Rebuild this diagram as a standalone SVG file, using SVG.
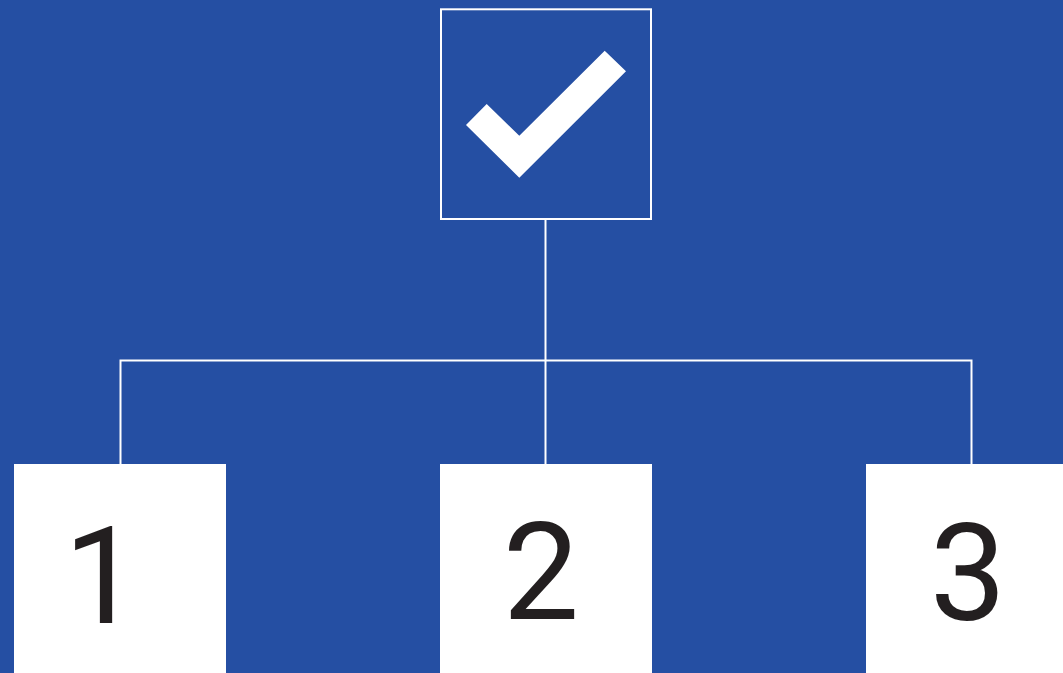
<svg xmlns="http://www.w3.org/2000/svg" width="1063" height="673" viewBox="0 0 1063 673">
<style>
.conn{stroke:#ffffff;stroke-width:2;fill:none}
.box{fill:#ffffff}
.num{font-family:Roboto,"Liberation Sans",Arial,sans-serif;font-size:136px;fill:#231f20;text-anchor:middle}
</style>
<rect x="0" y="0" width="1063" height="673" fill="#254fa3"/>
<g id="connectors">
<line class="conn" x1="545.5" y1="219" x2="545.5" y2="464"/>
<polyline class="conn" points="120.5,464 120.5,360.5 971.5,360.5 971.5,464"/>
</g>
<g id="root">
<rect x="441" y="9.3" width="210" height="209.7" fill="none" stroke="#ffffff" stroke-width="2"/>
<polygon points="466,125 486.7,104 519.3,135.7 604.7,50.7 626,71.3 519.3,177.7" fill="#ffffff"/>
</g>
<g id="node1">
<rect class="box" x="14" y="464" width="212" height="209"/>
<text class="num" x="102" y="623">1</text>
</g>
<g id="node2">
<rect class="box" x="440" y="464" width="212" height="209"/>
<text class="num" x="541" y="619">2</text>
</g>
<g id="node3">
<rect class="box" x="866" y="464" width="212" height="209"/>
<text class="num" x="968" y="620">3</text>
</g>
</svg>
